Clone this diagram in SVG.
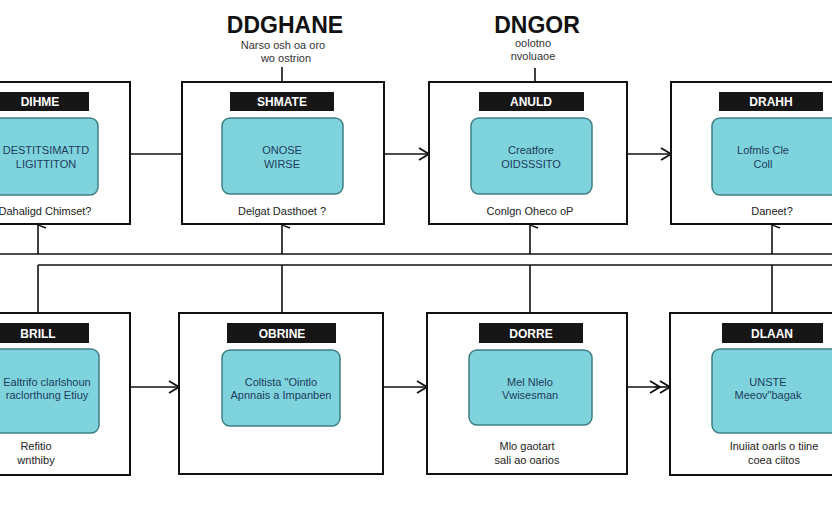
<svg xmlns="http://www.w3.org/2000/svg" width="832" height="512" viewBox="0 0 832 512">
<defs>
<marker id="chev" viewBox="0 0 12 14" markerWidth="12" markerHeight="14" refX="11" refY="7" orient="auto" markerUnits="userSpaceOnUse">
<path d="M1,1 L11,7 L1,13" fill="none" stroke="#111" stroke-width="1.8"/>
</marker>
<marker id="up" viewBox="0 0 8 10" markerWidth="8" markerHeight="10" refX="4" refY="1" orient="auto-start-reverse" markerUnits="userSpaceOnUse">
<path d="M1,9 L4,1 L7,9" fill="none" stroke="#111" stroke-width="1.4"/>
</marker>
</defs>
<style>
.box{fill:#fff;stroke:#111;stroke-width:2}
.bar{fill:#161616}
.bart{fill:#fff;font-family:"Liberation Sans",Arial,sans-serif;font-weight:bold;font-size:12px;text-anchor:middle}
.cy{fill:#7fd3dd;stroke:#3f7f86;stroke-width:1.5}
.ct{fill:#1c3d5c;font-family:"Liberation Sans",Arial,sans-serif;font-size:11px;text-anchor:middle}
.bt{fill:#222;font-family:"Liberation Sans",Arial,sans-serif;font-size:11px;text-anchor:middle}
.hd{fill:#111;font-family:"Liberation Sans",Arial,sans-serif;font-weight:bold;font-size:23px;text-anchor:middle}
.sub{fill:#333;font-family:"Liberation Sans",Arial,sans-serif;font-size:11px;text-anchor:middle}
.ln{fill:none;stroke:#111;stroke-width:1.6}
</style>
<rect width="832" height="512" fill="#fff"/>

<g id="header1">
<text class="hd" x="285" y="33">DDGHANE</text>
<text class="sub" x="283" y="49">Narso osh oa oro</text>
<text class="sub" x="286" y="62">wo ostrion</text>
</g>
<g id="header2">
<text class="hd" x="537" y="33">DNGOR</text>
<text class="sub" x="533" y="47">oolotno</text>
<text class="sub" x="533" y="60">nvoluaoe</text>
</g>

<g id="connectors">
<line class="ln" x1="282" y1="67" x2="282" y2="81"/>
<line class="ln" x1="535" y1="68" x2="535" y2="81"/>
<line class="ln" x1="130" y1="154" x2="182" y2="154"/>
<line class="ln" x1="384" y1="154" x2="429" y2="154" marker-end="url(#chev)"/>
<line class="ln" x1="627" y1="154" x2="671" y2="154" marker-end="url(#chev)"/>
<line class="ln" x1="0" y1="254" x2="832" y2="254"/>
<line class="ln" x1="38" y1="265" x2="832" y2="265"/>
<line class="ln" x1="38" y1="254" x2="38" y2="225" marker-end="url(#up)"/>
<line class="ln" x1="282" y1="254" x2="282" y2="225" marker-end="url(#up)"/>
<line class="ln" x1="530" y1="254" x2="530" y2="225" marker-end="url(#up)"/>
<line class="ln" x1="772" y1="254" x2="772" y2="225" marker-end="url(#up)"/>
<line class="ln" x1="38" y1="265" x2="38" y2="313"/>
<line class="ln" x1="282" y1="265" x2="282" y2="313"/>
<line class="ln" x1="530" y1="265" x2="530" y2="313"/>
<line class="ln" x1="772" y1="265" x2="772" y2="313"/>
<line class="ln" x1="130" y1="387" x2="179" y2="387" marker-end="url(#chev)"/>
<line class="ln" x1="383" y1="387" x2="427" y2="387" marker-end="url(#chev)"/>
<line class="ln" x1="627" y1="387" x2="660" y2="387" marker-end="url(#chev)"/>
<line class="ln" x1="655" y1="387" x2="670" y2="387" marker-end="url(#chev)"/>
</g>

<g id="node1">
<rect class="box" x="-10" y="82" width="140" height="142"/>
<rect class="bar" x="-2" y="92" width="91" height="19"/>
<text class="bart" x="40" y="106">DIHME</text>
<rect class="cy" x="-20" y="118" width="118" height="77" rx="8"/>
<text class="ct" x="46" y="154" font-size="10.5">DESTITSIMATTD</text>
<text class="ct" x="46" y="168">LIGITTITON</text>
<text class="bt" x="45" y="215" font-size="10">Dahaligd Chimset?</text>
</g>
<g id="node2">
<rect class="box" x="182" y="82" width="202" height="142"/>
<rect class="bar" x="230" y="92" width="104" height="19"/>
<text class="bart" x="282" y="106">SHMATE</text>
<rect class="cy" x="222" y="118" width="121" height="76" rx="8"/>
<text class="ct" x="282" y="154">ONOSE</text>
<text class="ct" x="282" y="168">WIRSE</text>
<text class="bt" x="282" y="215">Delgat Dasthoet ?</text>
</g>
<g id="node3">
<rect class="box" x="429" y="82" width="198" height="142"/>
<rect class="bar" x="479" y="92" width="105" height="19"/>
<text class="bart" x="531" y="106">ANULD</text>
<rect class="cy" x="471" y="118" width="121" height="76" rx="8"/>
<text class="ct" x="531" y="154">Creatfore</text>
<text class="ct" x="531" y="168">OIDSSSITO</text>
<text class="bt" x="530" y="215">Conlgn Oheco oP</text>
</g>
<g id="node4">
<rect class="box" x="671" y="82" width="171" height="142"/>
<rect class="bar" x="719" y="92" width="104" height="19"/>
<text class="bart" x="771" y="106">DRAHH</text>
<rect class="cy" x="712" y="118" width="130" height="77" rx="8"/>
<text class="ct" x="763" y="154">Lofmls Cle</text>
<text class="ct" x="763" y="168">Coll</text>
<text class="bt" x="772" y="215">Daneet?</text>
</g>

<g id="node5">
<rect class="box" x="-10" y="313" width="140" height="162"/>
<rect class="bar" x="-2" y="323" width="91" height="20"/>
<text class="bart" x="38" y="338">BRILL</text>
<rect class="cy" x="-20" y="349" width="119" height="84" rx="8"/>
<text class="ct" x="47" y="386" font-size="10.5">Ealtrifo clarlshoun</text>
<text class="ct" x="47" y="399" font-size="10.5">raclorthung Etiuy</text>
<text class="bt" x="36" y="450">Refitio</text>
<text class="bt" x="36" y="464">wnthiby</text>
</g>
<g id="node6">
<rect class="box" x="179" y="313" width="204" height="161"/>
<rect class="bar" x="227" y="323" width="109" height="20"/>
<text class="bart" x="282" y="338">OBRINE</text>
<rect class="cy" x="222" y="350" width="118" height="76" rx="8"/>
<text class="ct" x="281" y="386">Coltista "Ointlo</text>
<text class="ct" x="281" y="399">Apnnais a Impanben</text>
</g>
<g id="node7">
<rect class="box" x="427" y="313" width="200" height="161"/>
<rect class="bar" x="479" y="323" width="104" height="20"/>
<text class="bart" x="531" y="338">DORRE</text>
<rect class="cy" x="469" y="350" width="123" height="75" rx="8"/>
<text class="ct" x="530" y="386">Mel Nlelo</text>
<text class="ct" x="530" y="399">Vwisesman</text>
<text class="bt" x="527" y="450">Mlo gaotart</text>
<text class="bt" x="527" y="464">sali ao oarios</text>
</g>
<g id="node8">
<rect class="box" x="670" y="313" width="172" height="162"/>
<rect class="bar" x="722" y="323" width="101" height="20"/>
<text class="bart" x="772" y="338">DLAAN</text>
<rect class="cy" x="712" y="349" width="130" height="84" rx="8"/>
<text class="ct" x="768" y="386">UNSTE</text>
<text class="ct" x="768" y="399">Meeov"bagak</text>
<text class="bt" x="774" y="450">Inuiiat oarls o tiine</text>
<text class="bt" x="774" y="464">coea ciitos</text>
</g>
</svg>
